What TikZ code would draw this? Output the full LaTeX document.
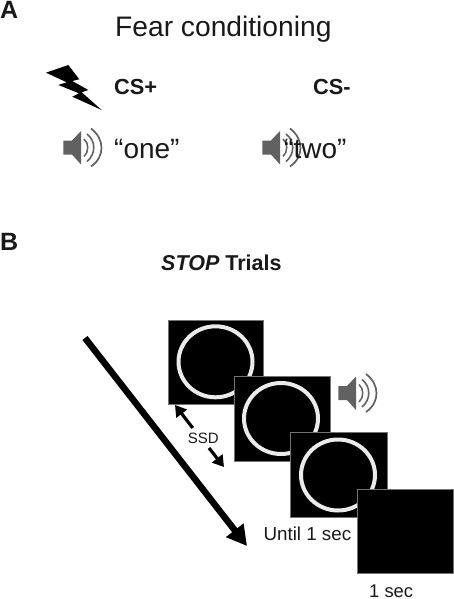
\documentclass[tikz,border=0pt]{standalone}
\usepackage{fontspec}
\setmainfont{Liberation Sans}
\usetikzlibrary{arrows.meta}
\tikzset{
  label text/.style={inner sep=0pt,anchor=base west,text=black!90},
  screen/.style={draw=black!55,line width=0.6pt,fill=black,anchor=north west,inner sep=0pt},
  ring/.style={draw=black!8,line width=4pt},
  pics/speaker/.style={code={
    \fill[black!62] (63.3,140.5) -- (72,140.5) -- (81,131) -- (81,164.5) -- (72,154.5) -- (63.3,154.5) -- cycle;
    \draw[black!62,line width=1.5pt] (84,139) .. controls (89,143) and (89,152) .. (84,156.5);
    \draw[black!62,line width=1.6pt] (87,134) .. controls (96,141) and (96,154) .. (87,161.5);
    \draw[black!62,line width=1.7pt] (91,128.5) .. controls (105,139) and (105,157) .. (91,166.5);
  }}
}
\newcommand{\fs}[1]{\fontsize{#1}{#1}\selectfont}
\begin{document}
\begin{tikzpicture}[x=1pt,y=-1pt]
\useasboundingbox (0,0) rectangle (453,599);
\node[label text] (lA) at (0,19) {\fs{25}\bfseries A};
\node[label text] (title) at (115,37) {\fs{28.2}Fear conditioning};
\fill[black] (46,72.7) -- (68.3,65) -- (79.3,79.3) -- (72.3,81) -- (88.3,90) -- (81.7,92.3) -- (101.7,110) -- (72.3,96.7) -- (79,93.3) -- (58.3,85) -- (66.7,82.3) -- cycle;
\node[label text] (csp) at (114,95) {\fs{21.8}\bfseries CS+};
\node[label text] (csm) at (313,95) {\fs{21.8}\bfseries CS-};
\pic at (0,0) {speaker};
\node[label text] (one) at (114,158) {\fs{28}“one”};
\pic at (199,0) {speaker};
\node[label text] (two) at (284,158) {\fs{28}“two”};
\node[label text] (lB) at (0,250) {\fs{25}\bfseries B};
\node[label text] (stop) at (161,270) {\fs{21.5}\bfseries\itshape STOP\upshape{} Trials};
\coordinate (tstart) at (85,338);
\coordinate (tend) at (247,546);
\draw[line width=6.5pt,-{Triangle[length=20pt,width=21pt]}] (tstart) -- (tend);
\node[screen,minimum width=95.5pt,minimum height=84.5pt] (s1) at (167.5,319.5) {};
\draw[ring] (215.5,361.8) ellipse (37pt and 35.5pt);
\node[screen,minimum width=96.5pt,minimum height=84.5pt] (s2) at (233.5,376) {};
\draw[ring] (281,418.5) ellipse (37pt and 35.5pt);
\node[screen,minimum width=96.7pt,minimum height=85pt] (s3) at (290,432) {};
\draw[ring] (338,475) ellipse (37pt and 35.5pt);
\node[screen,minimum width=95.7pt,minimum height=84pt] (s4) at (357,489) {};
\pic at (275,245.5) {speaker};
\node[label text] (ssd) at (187.7,443) {\fs{15}SSD};
\coordinate (a1t) at (192.7,428);
\coordinate (a1h) at (175,405);
\coordinate (a2t) at (209,448);
\coordinate (a2h) at (224,467);
\draw[line width=3.2pt,-{Triangle[length=11pt,width=13pt]}] (a1t) -- (a1h);
\draw[line width=3.2pt,-{Triangle[length=11pt,width=13pt]}] (a2t) -- (a2h);
\node[label text] (until) at (263.3,540) {\fs{18.8}Until 1 sec};
\node[label text] (osec) at (369,597) {\fs{18.4}1 sec};
\end{tikzpicture}
\end{document}
